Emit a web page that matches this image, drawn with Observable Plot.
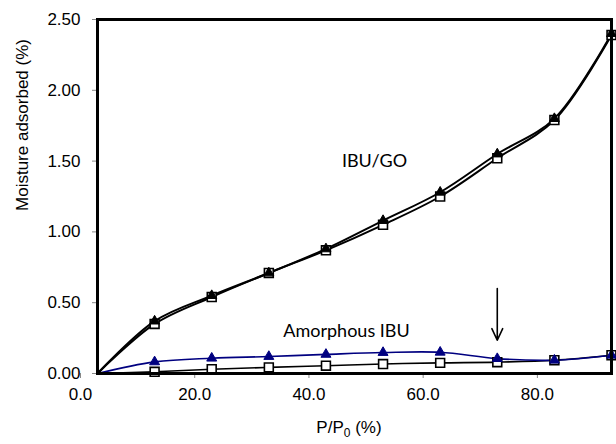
<!DOCTYPE html>
<html>
<head>
<meta charset="utf-8">
<script src="https://cdn.jsdelivr.net/npm/d3@7"></script>
<script src="https://cdn.jsdelivr.net/npm/@observablehq/plot@0.6"></script>
<style>
  html, body { margin: 0; padding: 0; background: #fff; }
  #chart svg { display: block; }
</style>
</head>
<body>
<div id="chart"></div>
<script>
// P/P0 (%) steps
const pp0 = [0, 10, 20, 30, 40, 50, 60, 70, 80, 90];
// IBU/GO – filled triangles and open squares
const goTriangles = [0, 0.37, 0.55, 0.71, 0.88, 1.08, 1.28, 1.55, 1.80, 2.40];
const goSquares   = [0, 0.35, 0.54, 0.71, 0.87, 1.05, 1.25, 1.52, 1.79, 2.39];
// Amorphous IBU – blue triangles and open squares
const amTriangles = [0, 0.082, 0.108, 0.120, 0.135, 0.148, 0.150, 0.105, 0.094, 0.129];
const amSquares   = [0, 0.012, 0.030, 0.043, 0.055, 0.067, 0.075, 0.080, 0.094, 0.129];
// axis ticks
const xTicks = [0, 20, 40, 60, 80];
const yTicks = [0, 0.5, 1.0, 1.5, 2.0, 2.5];
// annotations
const labels = [
  {x: 48.5, y: 1.50, text: "IBU/GO"},
  {x: 43.6, y: 0.30, text: "Amorphous IBU"}
];
const arrowAt = [{x: 70, yFrom: 0.60, yTo: 0.235}];

const mk = (ys, series) => pp0.map((x, i) => ({x, y: ys[i], series}));
const goT = mk(goTriangles, "goT"), goS = mk(goSquares, "goS");
const amT = mk(amTriangles, "amT"), amS = mk(amSquares, "amS");
const pts = d => d.filter(p => p.x > 0);

const NAVY = "#000080";
const FONT = "'Liberation Sans', Arial, sans-serif";
const svg = Plot.plot({
  width: 616, height: 444,
  marginLeft: 97, marginRight: 5, marginTop: 19, marginBottom: 71,
  style: {fontFamily: FONT, fontSize: "17px", background: "#fff", color: "#000"},
  x: {domain: [0, 90]},
  y: {domain: [0, 2.5]},
  marks: [
    Plot.axisY({ticks: yTicks, tickFormat: d3.format(".2f"), tickSize: 5, tickPadding: 12, stroke: "#888", fill: "#000", label: null, fontSize: 17}),
    Plot.axisX({ticks: xTicks, tickFormat: d3.format(".1f"), tickSize: 5, tickPadding: 9, stroke: "#888", fill: "#000", dx: -17, label: null, fontSize: 17}),
    Plot.line(amS, {x: "x", y: "y", stroke: "#000", strokeWidth: 1.6, curve: "catmull-rom"}),
    Plot.line(amT, {x: "x", y: "y", stroke: NAVY, strokeWidth: 1.6, curve: "catmull-rom"}),
    Plot.line(goS, {x: "x", y: "y", stroke: "#000", strokeWidth: 2, curve: "catmull-rom"}),
    Plot.line(goT, {x: "x", y: "y", stroke: "#000", strokeWidth: 2, curve: "catmull-rom"}),
    Plot.dot(pts(amS), {x: "x", y: "y", symbol: "square", r: 5, fill: "#fff", stroke: "#000", strokeWidth: 1.6}),
    Plot.dot(pts(amT), {x: "x", y: "y", symbol: "triangle", r: 3.7, fill: NAVY, stroke: NAVY, strokeWidth: 1}),
    Plot.dot(pts(goS), {x: "x", y: "y", symbol: "square", r: 5, fill: "#fff", stroke: "#000", strokeWidth: 1.6}),
    Plot.dot(pts(goT), {x: "x", y: "y", symbol: "triangle", r: 3.7, fill: "#000", stroke: "#000", strokeWidth: 1}),
    Plot.text(labels, {x: "x", y: "y", text: "text", fontFamily: "Lato, 'Open Sans', sans-serif", fontSize: 18, fill: "#000"}),
    Plot.arrow(arrowAt, {x1: "x", x2: "x", y1: "yFrom", y2: "yTo", stroke: "#000", strokeWidth: 1.6, headLength: 12, headAngle: 50}),
    Plot.frame({stroke: "#000", strokeWidth: 3})
  ]
});

const s = d3.select(svg);
// y axis title
s.append("text")
  .attr("transform", "translate(22,125) rotate(-90)")
  .attr("text-anchor", "middle")
  .attr("dominant-baseline", "central")
  .attr("font-family", FONT)
  .attr("font-size", 17)
  .attr("fill", "#000")
  .text("Moisture adsorbed (%)");
// x axis title with subscript
const xt = s.append("text")
  .attr("x", 349).attr("y", 433)
  .attr("text-anchor", "middle")
  .attr("font-family", FONT)
  .attr("font-size", 17)
  .attr("fill", "#000");
xt.append("tspan").text("P/P");
xt.append("tspan").attr("font-size", 12).attr("dy", 4).text("0");
xt.append("tspan").attr("dy", -4).text(" (%)");

document.getElementById("chart").appendChild(svg);
</script>
</body>
</html>
